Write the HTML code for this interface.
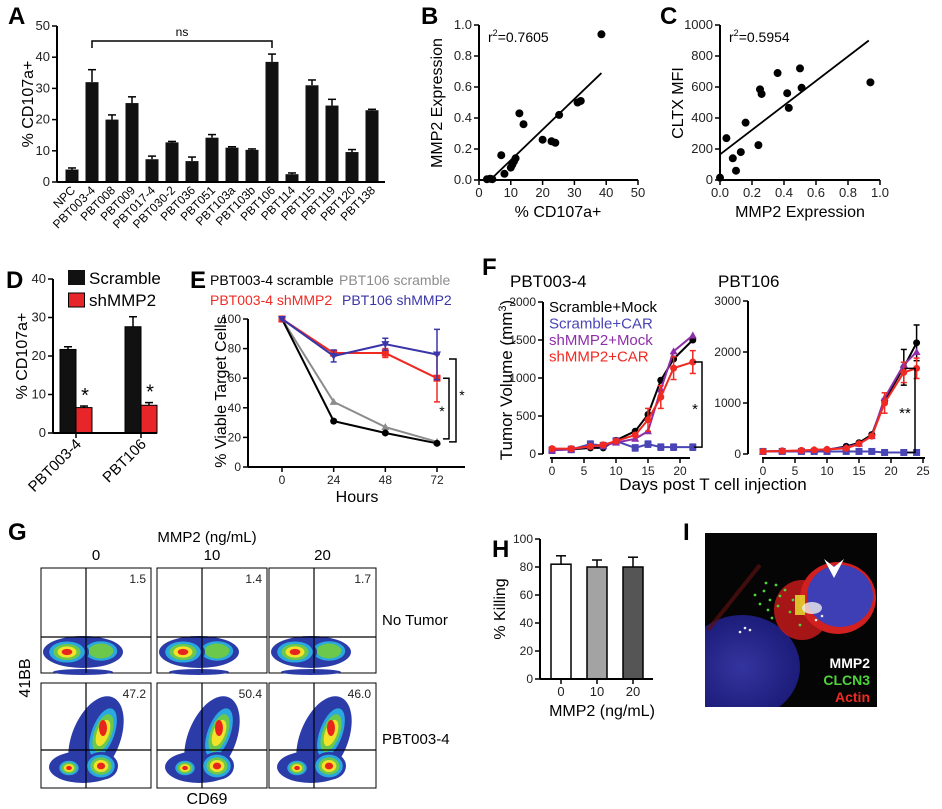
<!DOCTYPE html>
<html><head><meta charset="utf-8">
<style>
html,body{margin:0;padding:0;background:#fff;}
svg{display:block;font-family:"Liberation Sans",Arial,sans-serif;}
</style></head>
<body>
<svg id="fig" width="942" height="809" viewBox="0 0 942 809" xmlns="http://www.w3.org/2000/svg">
<defs>
<radialGradient id="cellBlue" cx="50%" cy="50%" r="50%">
<stop offset="0%" stop-color="#34349e"/><stop offset="100%" stop-color="#1c1c7a"/></radialGradient>
<clipPath id="clipI"><rect x="705" y="533" width="172" height="174"/></clipPath>
</defs>
</svg>
<script>
// ---------- DATA ----------
const aCats=["NPC","PBT003-4","PBT008","PBT009","PBT017-4","PBT030-2","PBT036","PBT051","PBT103a","PBT103b","PBT106","PBT114","PBT115","PBT119","PBT120","PBT138"];
const aVals=[4,32,20,25.3,7.3,12.7,6.7,14.2,11,10.3,38.5,2.5,31,24.5,9.6,23];
const aErr=[0.5,4,1.5,2,1,0.3,1.3,1,0.3,0.3,2.5,0.4,1.7,2,0.8,0.3];
const aTicks=[0,10,20,30,40,50];
const bX=[2.5,3.5,4.2,7,8,10,10.5,11,11.5,12.7,14,20,22.8,24,25.2,31,32,38.5];
const bY=[0.005,0.008,0.005,0.16,0.04,0.08,0.1,0.12,0.14,0.43,0.36,0.26,0.25,0.24,0.42,0.5,0.51,0.94];
const bFit=[3.5,0,38.5,0.69];
const bXTicks=[0,10,20,30,40,50];
const bYTicks=[0,0.2,0.4,0.6,0.8,1.0];
const cX=[0,0.04,0.08,0.1,0.13,0.16,0.24,0.25,0.26,0.36,0.42,0.43,0.5,0.51,0.94];
const cY=[15,270,140,60,180,370,225,585,555,690,560,465,720,595,630];
const cFit=[0,165,0.93,900];
const cXTicks=[0,0.2,0.4,0.6,0.8,1.0];
const cYTicks=[0,200,400,600,800,1000];
const dGroups=["PBT003-4","PBT106"];
const dScramble=[21.7,27.6];
const dScrambleErr=[0.7,2.6];
const dSh=[6.6,7.2];
const dShErr=[0.4,0.7];
const dTicks=[0,10,20,30,40];
const eHours=[0,24,48,72];
const eBlack=[100,31,23,16];
const eGray=[100,44,27,17];
const eRed=[100,77,77,60];
const eRedErr=[0,2,3,16];
const eBlue=[100,75,83,76];
const eBlueErr=[0,4,4,17];
const eTicks=[0,20,40,60,80,100];
const fDaysL=[0,3,6,8,10,13,15,17,19,22];
const fL_black=[60,60,80,80,180,300,520,970,1250,1500];
const fL_blue=[50,60,130,110,170,80,130,90,90,90];
const fL_purple=[50,60,100,110,150,200,300,850,1350,1560];
const fL_red=[70,70,100,120,170,250,450,750,1130,1210];
const fDaysR=[0,3,6,8,10,13,15,17,19,22,24];
const fR_black=[50,60,60,70,80,150,220,380,1050,1700,2180];
const fR_blue=[50,50,50,50,50,50,50,50,30,30,30];
const fR_purple=[50,60,60,80,90,130,200,350,1100,1750,2000];
const fR_red=[50,60,70,80,90,110,200,350,1000,1600,1680];
const fLYTicks=[0,500,1000,1500,2000];
const fRYTicks=[0,1000,2000,3000];
const fXTicks=[0,5,10,15,20];
const fXTicksR=[0,5,10,15,20,25];
const hCats=["0","10","20"];
const hVals=[82,80,80];
const hErr=[6,5,7];
const hTicks=[0,20,40,60,80,100];
const gCols=["0","10","20"];
const gNoTumor=["1.5","1.4","1.7"];
const gTumor=["47.2","50.4","46.0"];

// ---------- HELPERS ----------
const svg=document.getElementById('fig');
const NS='http://www.w3.org/2000/svg';
function mk(tag,attrs,parent,text){const e=document.createElementNS(NS,tag);for(const k in attrs)e.setAttribute(k,attrs[k]);if(text!==undefined)e.textContent=text;(parent||svg).appendChild(e);return e;}
function grp(){return mk('g',{});}
function yAx(g,x,y0,y1,ticks,sc,fmt,fs){
  const l=mk('line',{x1:x,y1:y0,x2:x,y2:y1,stroke:'#000','stroke-width':2},g);
  
  
  ticks.forEach(t=>{const y=sc(t);
    mk('line',{x1:x-5,y1:y,x2:x,y2:y,stroke:'#000','stroke-width':1.5},g);
    const tx=mk('text',{x:x-7,y:y+4,'font-size':fs,'text-anchor':'end',fill:'#222'},g,fmt(t));
    
    });
}
function xAx(g,y,x0,x1,ticks,sc,fmt,fs){
  const l=mk('line',{x1:x0,y1:y,x2:x1,y2:y,stroke:'#000','stroke-width':2},g);
  
  
  ticks.forEach(t=>{const x=sc(t);
    mk('line',{x1:x,y1:y,x2:x,y2:y+5,stroke:'#000','stroke-width':1.5},g);
    const tx=mk('text',{x:x,y:y+17,'font-size':fs,'text-anchor':'middle',fill:'#222'},g,fmt(t));
    
    });
}
function label(t,x,y){const e=mk('text',{x:x,y:y,'font-size':24,'font-weight':'bold'},svg,t);
  
  }
function rotText(t,x,y,fs,g,anchor,ang){return mk('text',{x:0,y:0,'font-size':fs,'text-anchor':anchor||'middle',transform:`translate(${x},${y}) rotate(${ang===undefined?-90:ang})`},g,t);}
function errBar(g,x,y0,y1,col,w){mk('line',{x1:x,y1:y0,x2:x,y2:y1,stroke:col,'stroke-width':1.5},g);mk('line',{x1:x-(w||4),y1:y1,x2:x+(w||4),y2:y1,stroke:col,'stroke-width':1.5},g);}

// ---------- PANEL A ----------
label('A',8,24);
const gA=grp();

const aY=v=>182-v*(156/50), aX=i=>72+i*20;
aCats.forEach((c,i)=>{
  errBar(gA,aX(i),aY(aVals[i]),aY(aVals[i]+aErr[i]),'#000',4);
  const b=mk('rect',{x:aX(i)-6.5,y:aY(aVals[i]),width:13,height:182-aY(aVals[i]),fill:'#111'},gA);
  
  
  const t=rotText(c,aX(i)+4,191,12,gA,'end',-45);
  
  
});
yAx(gA,57,26,182,aTicks,aY,String,13);
mk('line',{x1:57,y1:182,x2:385,y2:182,stroke:'#000','stroke-width':2},gA);
const at=rotText('% CD107a+',33,104,16,gA);
mk('path',{d:`M${aX(1)} 48 V41 H${aX(10)} V48`,fill:'none',stroke:'#000','stroke-width':1.5},gA);
const ns=mk('text',{x:(aX(1)+aX(10))/2,y:36,'font-size':12,'text-anchor':'middle'},gA,'ns');


// ---------- PANEL B ----------
label('B',421,24);
const gB=grp();
const bxs=v=>479+v*(159/50), bys=v=>180-v*155;
yAx(gB,479,25,180,bYTicks,bys,v=>v.toFixed(1),13);
xAx(gB,180,479,638,bXTicks,bxs,String,13);
mk('line',{x1:bxs(bFit[0]),y1:bys(bFit[1]),x2:bxs(bFit[2]),y2:bys(bFit[3]),stroke:'#000','stroke-width':1.8},gB);
bX.forEach((x,i)=>{const p=mk('circle',{cx:bxs(x),cy:bys(bY[i]),r:4,fill:'#000'},gB);});
const br=mk('text',{x:488,y:42,'font-size':14},gB);br.innerHTML='r<tspan font-size="9" dy="-6">2</tspan><tspan dy="6">=0.7605</tspan>';

const bt=rotText('MMP2 Expression',442,103,16,gB);
const bxt=mk('text',{x:558,y:217,'font-size':16,'text-anchor':'middle'},gB,'% CD107a+');

// ---------- PANEL C ----------
label('C',660,24);
const gC=grp();
const cxs=v=>720+v*160, cys=v=>180-v*0.155;
yAx(gC,720,25,180,cYTicks,cys,String,13);
xAx(gC,180,720,880,cXTicks,cxs,v=>v.toFixed(1),13);
mk('line',{x1:cxs(cFit[0]),y1:cys(cFit[1]),x2:cxs(cFit[2]),y2:cys(cFit[3]),stroke:'#000','stroke-width':1.8},gC);
cX.forEach((x,i)=>{const p=mk('circle',{cx:cxs(x),cy:cys(cY[i]),r:4,fill:'#000'},gC);});
const cr=mk('text',{x:729,y:42,'font-size':14},gC);cr.innerHTML='r<tspan font-size="9" dy="-6">2</tspan><tspan dy="6">=0.5954</tspan>';

const ct=rotText('CLTX MFI',683,103,16,gC);
const cxt=mk('text',{x:800,y:217,'font-size':16,'text-anchor':'middle'},gC,'MMP2 Expression');

// ---------- PANEL D ----------
label('D',6,288);
const gD=grp();
const dys=v=>433-v*(154/40);
const dCenters=[76,141];
dGroups.forEach((g,i)=>{
  const cx=dCenters[i];
  errBar(gD,cx-8,dys(dScramble[i]),dys(dScramble[i]+dScrambleErr[i]),'#000',4);
  const b1=mk('rect',{x:cx-16,y:dys(dScramble[i]),width:16,height:433-dys(dScramble[i]),fill:'#111',stroke:'#000'},gD);
  
  errBar(gD,cx+8,dys(dSh[i]),dys(dSh[i]+dShErr[i]),'#000',4);
  const b2=mk('rect',{x:cx,y:dys(dSh[i]),width:16,height:433-dys(dSh[i]),fill:'#e8262a',stroke:'#000'},gD);
  
  const s=mk('text',{x:cx+9,y:dys(dSh[i]+dShErr[i])-4,'font-size':20,'text-anchor':'middle'},gD,'*');
  
  const t=rotText(g,cx+6,445,15,gD,'end',-45);
});
yAx(gD,53,279,433,dTicks,dys,String,13);
mk('line',{x1:53,y1:433,x2:157,y2:433,stroke:'#000','stroke-width':2},gD);
dCenters.forEach(c=>mk('line',{x1:c,y1:433,x2:c,y2:438,stroke:'#000','stroke-width':1.5},gD));
const dt=rotText('% CD107a+',27,356,16,gD);
mk('rect',{x:68,y:270,width:17,height:15,fill:'#111'},gD);
const dl1=mk('text',{x:89,y:284,'font-size':17},gD,'Scramble');
mk('rect',{x:68.5,y:293,width:16,height:14,fill:'#e8262a',stroke:'#000'},gD);
const dl2=mk('text',{x:89,y:306,'font-size':17},gD,'shMMP2');

// ---------- PANEL E ----------
label('E',190,288);
const gE=grp();
const exs=h=>282+h*(155/72), eys=v=>467-v*1.48;
yAx(gE,248,319,467,eTicks,eys,String,12);
xAx(gE,467,248,465,eHours,exs,String,12);
function series(g,xs,ys,xsF,ysF,col,shape,errs,name){
  const pl=mk('polyline',{points:xs.map((x,i)=>xsF(x)+','+ysF(ys[i])).join(' '),fill:'none',stroke:col,'stroke-width':2},g);
  
  xs.forEach((x,i)=>{const px=xsF(x),py=ysF(ys[i]);
    if(errs&&errs[i]){errBar(g,px,ysF(ys[i]-errs[i]),ysF(ys[i]+errs[i]),col,3);mk('line',{x1:px-3,y1:ysF(ys[i]-errs[i]),x2:px+3,y2:ysF(ys[i]-errs[i]),stroke:col,'stroke-width':1.5},g);}
    let m;
    if(shape==='c')m=mk('circle',{cx:px,cy:py,r:3.5,fill:col},g);
    else if(shape==='s')m=mk('rect',{x:px-3.5,y:py-3.5,width:7,height:7,fill:col},g);
    else if(shape==='t')m=mk('polygon',{points:`${px},${py-4} ${px-4},${py+3} ${px+4},${py+3}`,fill:col},g);
    else m=mk('polygon',{points:`${px},${py+4} ${px-4},${py-3} ${px+4},${py-3}`,fill:col},g);
    
    
  });
}
series(gE,eHours,eGray,exs,eys,'#8c8c8c','t',null,'pbt106-scramble');
series(gE,eHours,eBlack,exs,eys,'#000','c',null,'pbt003-scramble');
series(gE,eHours,eRed,exs,eys,'#f02a22','s',eRedErr,'pbt003-shmmp2');
series(gE,eHours,eBlue,exs,eys,'#3a36a8','v',eBlueErr,'pbt106-shmmp2');
mk('path',{d:`M443 ${eys(60)} H449 V${eys(19)} H443`,fill:'none',stroke:'#000','stroke-width':1.5},gE);
mk('path',{d:`M449 ${eys(73)} H456 V${eys(17)} H449`,fill:'none',stroke:'#000','stroke-width':1.5},gE);
const es1=mk('text',{x:442,y:416,'font-size':14,'text-anchor':'middle'},gE,'*');
const es2=mk('text',{x:462,y:400,'font-size':14,'text-anchor':'middle'},gE,'*');
const et=rotText('% Viable Target Cells',226,392,16,gE);
const ext=mk('text',{x:357,y:502,'font-size':16,'text-anchor':'middle'},gE,'Hours');
const el1=mk('text',{x:210,y:285,'font-size':14,fill:'#000'},gE,'PBT003-4 scramble');
const el2=mk('text',{x:339,y:285,'font-size':14,fill:'#8c8c8c'},gE,'PBT106 scramble');
const el3=mk('text',{x:210,y:305,'font-size':14,fill:'#f02a22'},gE,'PBT003-4 shMMP2');
const el4=mk('text',{x:342,y:305,'font-size':14,fill:'#3a36a8'},gE,'PBT106 shMMP2');

// ---------- PANEL F ----------
label('F',482,275);
const gF=grp();
const fxL=d=>552+d*6.4, fyL=v=>454-v*0.076;
const fxR=d=>763+d*6.4, fyR=v=>454-v*0.051;
yAx(gF,543,302,454,fLYTicks,fyL,String,12);
xAx(gF,458,550,690,fXTicks,fxL,String,12);
yAx(gF,748,301,454,fRYTicks,fyR,String,12);
xAx(gF,458,762,925,fXTicksR,fxR,String,12);
series(gF,fDaysL,fL_black,fxL,fyL,'#000','c',null,'left-scramble-mock');
series(gF,fDaysL,fL_blue,fxL,fyL,'#4a45b5','s',fL_blue.map(()=>40),'left-scramble-car');
series(gF,fDaysL,fL_purple,fxL,fyL,'#8e2fa8','t',null,'left-shmmp2-mock');
series(gF,fDaysL,fL_red,fxL,fyL,'#f02a22','c',fL_red.map((v,i)=>i>5?150:20),'left-shmmp2-car');
series(gF,fDaysR,fR_black,fxR,fyR,'#000','c',fR_black.map((v,i)=>i>8?350:20),'right-scramble-mock');
series(gF,fDaysR,fR_blue,fxR,fyR,'#4a45b5','s',null,'right-scramble-car');
series(gF,fDaysR,fR_purple,fxR,fyR,'#8e2fa8','t',null,'right-shmmp2-mock');
series(gF,fDaysR,fR_red,fxR,fyR,'#f02a22','c',fR_red.map((v,i)=>i>7?200:20),'right-shmmp2-car');
mk('path',{d:`M694 ${fyL(1210)} H702 V${fyL(90)} H694`,fill:'none',stroke:'#000','stroke-width':1.5},gF);
mk('path',{d:`M907 ${fyR(1680)} H915 V${fyR(30)} H907`,fill:'none',stroke:'#000','stroke-width':1.5},gF);
const fs1=mk('text',{x:695,y:414,'font-size':15,'text-anchor':'middle'},gF,'*');
const fs2=mk('text',{x:905,y:418,'font-size':15,'text-anchor':'middle'},gF,'**');
const ft1=mk('text',{x:510,y:287,'font-size':17},gF,'PBT003-4');
const ft2=mk('text',{x:718,y:287,'font-size':17},gF,'PBT106');
const fyt=mk('text',{x:0,y:0,'font-size':17,'text-anchor':'middle',transform:'translate(512,380) rotate(-90)'},gF);fyt.innerHTML='Tumor Volume (mm<tspan font-size="11" dy="-6">3</tspan><tspan dy="6">)</tspan>';

const fxt=mk('text',{x:713,y:490,'font-size':17,'text-anchor':'middle'},gF,'Days post T cell injection');
[['Scramble+Mock','#000'],['Scramble+CAR','#4a45b5'],['shMMP2+Mock','#8e2fa8'],['shMMP2+CAR','#f02a22']].forEach((l,i)=>{
  const t=mk('text',{x:549,y:312+i*16.5,'font-size':15,fill:l[1]},gF,l[0]);
  
  
});

// ---------- PANEL G ----------
label('G',8,540);
const gG=grp();
const gt=mk('text',{x:207,y:542,'font-size':15,'text-anchor':'middle'},gG,'MMP2 (ng/mL)');
const colX=[41,157,269], colW=[110,110,107];
const rowY=[568,683], rowH=105;
const heat=['#2b3ca8','#2aa8e0','#6cc84a','#f2e32a','#e8241e'];
function blob(g,cx,cy,rx,ry,rot,n){
  for(let k=0;k<n;k++){const f=1-k*0.19;mk('ellipse',{cx:cx,cy:cy,rx:Math.max(rx*f,1),ry:Math.max(ry*f,1),fill:heat[k],transform:`rotate(${rot} ${cx} ${cy})`},g);}
}
gCols.forEach((c,j)=>{
  const ct=mk('text',{x:colX[j]+colW[j]/2,y:560,'font-size':15,'text-anchor':'middle'},gG,c);
  
  for(let r=0;r<2;r++){
    const x=colX[j],y=rowY[r],w=colW[j];
    const box=mk('rect',{x:x,y:y,width:w,height:rowH,fill:'#fff',stroke:'#000','stroke-width':1},gG);
    
    if(r===0){
      mk('ellipse',{cx:x+42,cy:y+84,rx:40,ry:16,fill:'#2b3ca8'},gG);
      mk('ellipse',{cx:x+42,cy:y+104,rx:30,ry:3,fill:'#2b3ca8'},gG);
      blob(gG,x+60,y+83,20,12,0,3);
      blob(gG,x+26,y+84,22,13,0,5);
    }else{
      mk('ellipse',{cx:x+55,cy:y+55,rx:24,ry:44,fill:'#2b3ca8',transform:`rotate(22 ${x+55} ${y+55})`},gG);
      mk('ellipse',{cx:x+42,cy:y+84,rx:34,ry:16,fill:'#2b3ca8'},gG);
      blob(gG,x+62,y+50,14,32,20,4);
      mk('ellipse',{cx:x+62,cy:y+45,rx:4,ry:8,fill:'#e8241e'},gG);
      blob(gG,x+60,y+83,17,14,0,5);
      blob(gG,x+28,y+85,12,9,0,5);
    }
    mk('line',{x1:x+45,y1:y,x2:x+45,y2:y+rowH,stroke:'#000','stroke-width':1.2},gG);
    const hy=r===0?y+69:y+67;
    mk('line',{x1:x,y1:hy,x2:x+w,y2:hy,stroke:'#000','stroke-width':1.2},gG);
    const nt=mk('text',{x:x+w-5,y:y+15,'font-size':12,'text-anchor':'end',fill:'#222'},gG,r===0?gNoTumor[j]:gTumor[j]);
    
  }
});
const nr1=mk('text',{x:382,y:625,'font-size':15},gG,'No Tumor');
const nr2=mk('text',{x:382,y:744,'font-size':15},gG,'PBT003-4');
const gy=rotText('41BB',30,678,16,gG);
const gx=mk('text',{x:207,y:804,'font-size':16,'text-anchor':'middle'},gG,'CD69');

// ---------- PANEL H ----------
label('H',492,557);
const gH=grp();
const hys=v=>679-v*1.4;
const hFill=['#ffffff','#a3a3a3','#555555'];
const hCx=[561,597,633];
hCats.forEach((c,i)=>{
  errBar(gH,hCx[i],hys(hVals[i]),hys(hVals[i]+hErr[i]),'#000',5);
  const b=mk('rect',{x:hCx[i]-10,y:hys(hVals[i]),width:20,height:679-hys(hVals[i]),fill:hFill[i],stroke:'#000','stroke-width':1.5},gH);
  
});
yAx(gH,540,539,679,hTicks,hys,String,12);
xAx(gH,679,540,653,[0,1,2],i=>hCx[i],i=>hCats[i],13);
const ht=rotText('% Killing',505,609,16,gH);
const hxt=mk('text',{x:602,y:716,'font-size':16,'text-anchor':'middle'},gH,'MMP2 (ng/mL)');

// ---------- PANEL I ----------
label('I',683,540);
const gI=grp();
const ib=mk('rect',{x:705,y:533,width:172,height:174,fill:'#050505'},gI);
const gIc=mk('g',{'clip-path':'url(#clipI)'},gI);
mk('ellipse',{cx:742,cy:667,rx:58,ry:52,fill:'url(#cellBlue)'},gIc);
mk('ellipse',{cx:802,cy:610,rx:28,ry:30,fill:'#c41a1a',opacity:0.85},gIc);
mk('ellipse',{cx:838,cy:598,rx:38,ry:36,fill:'#d02020'},gIc);
mk('ellipse',{cx:840,cy:596,rx:33,ry:31,fill:'#3f3fb5'},gIc);
mk('rect',{x:795,y:595,width:10,height:20,fill:'#e8e830',opacity:0.8},gIc);
mk('ellipse',{cx:812,cy:608,rx:10,ry:6,fill:'#eeeeee',opacity:0.8},gIc);
mk('line',{x1:708,y1:630,x2:760,y2:565,stroke:'#5a1010','stroke-width':4,opacity:0.7},gIc);
const dots=[[764,591],[770,600],[776,585],[768,610],[780,596],[760,604],[772,618],[785,590],[790,612],[800,625],[755,595],[778,606],[766,583],[793,600]];
dots.forEach(d=>mk('circle',{cx:d[0],cy:d[1],r:1.4,fill:'#4fd23a'},gIc));
[[745,628],[750,630],[740,632],[816,620],[822,616]].forEach(d=>mk('circle',{cx:d[0],cy:d[1],r:1.3,fill:'#eee'},gIc));
mk('polygon',{points:'824,559 834,567 844,559 834,578',fill:'#fff'},gIc);
const i1=mk('text',{x:870,y:668,'font-size':14,'font-weight':'bold','text-anchor':'end',fill:'#ffffff'},gI,'MMP2');
const i2=mk('text',{x:870,y:685,'font-size':14,'font-weight':'bold','text-anchor':'end',fill:'#4fd23a'},gI,'CLCN3');
const i3=mk('text',{x:870,y:702,'font-size':14,'font-weight':'bold','text-anchor':'end',fill:'#f02a22'},gI,'Actin');
</script>
</body></html>
